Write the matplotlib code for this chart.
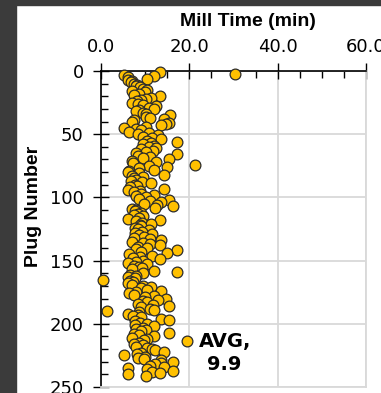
import matplotlib.pyplot as plt
from matplotlib.patches import Rectangle
from matplotlib.ticker import MultipleLocator, FormatStrFormatter
import numpy as np

plt.rcParams['font.family'] = ['Liberation Sans', 'DejaVu Sans']

# mill time (min) for each plug, plug 1 .. 241
mill_time = [
    13.4, 30.3, 5.3, 11.9, 6.2, 10.4, 6.0, 7.1, 6.9, 7.5,
    8.2, 7.9, 8.8, 9.4, 10.5, 7.1, 9.9, 8.6, 7.5, 13.4,
    11.3, 10.1, 9.0, 8.2, 7.1, 8.3, 9.4, 12.4, 10.9, 12.0,
    8.6, 7.9, 9.5, 10.1, 15.6, 10.1, 11.0, 14.3, 7.4, 7.1,
    15.4, 14.8, 13.5, 10.1, 5.3, 8.0, 9.0, 6.4, 10.9, 8.3,
    12.8, 9.6, 11.5, 13.5, 10.5, 17.3, 11.3, 9.4, 12.0, 10.8,
    12.4, 9.0, 11.8, 10.1, 7.9, 17.3, 8.3, 11.0, 9.6, 15.3,
    7.1, 12.4, 7.3, 21.2, 10.9, 15.0, 8.6, 12.0, 6.4, 6.2,
    8.5, 14.3, 7.0, 9.5, 7.5, 8.0, 6.8, 9.2, 11.3, 7.6,
    8.2, 6.5, 14.3, 6.0, 8.8, 7.5, 9.0, 12.0, 8.0, 10.2,
    8.5, 15.4, 11.0, 13.5, 9.8, 12.6, 16.3, 12.2, 7.1, 8.0,
    7.7, 9.0, 8.3, 7.5, 9.5, 8.6, 6.2, 13.4, 8.0, 9.2,
    11.3, 8.8, 9.0, 7.8, 8.3, 10.8, 9.2, 7.6, 11.5, 8.5,
    9.8, 7.4, 11.0, 13.5, 7.1, 9.5, 11.2, 13.4, 8.3, 10.5,
    8.0, 17.3, 9.0, 15.0, 6.4, 11.5, 8.8, 7.2, 13.4, 9.6,
    8.0, 6.0, 10.5, 7.5, 8.6, 9.2, 7.0, 12.0, 17.3, 9.4,
    6.5, 8.0, 6.0, 7.8, 0.4, 6.5, 7.2, 6.0, 7.1, 9.6,
    11.3, 9.0, 10.5, 13.5, 8.0, 6.4, 7.5, 12.0, 10.0, 14.7,
    12.8, 9.5, 10.5, 8.3, 11.8, 15.4, 9.0, 11.0, 12.0, 1.4,
    8.5, 6.0, 8.3, 7.2, 9.0, 13.5, 15.4, 7.6, 8.8, 10.5,
    7.8, 12.0, 9.4, 8.0, 10.2, 9.0, 15.4, 7.5, 8.6, 12.0,
    7.1, 10.5, 9.8, 19.4, 8.5, 7.5, 9.5, 8.0, 10.5, 11.5,
    12.2, 14.3, 9.0, 8.2, 5.3, 10.0, 8.3, 9.8, 13.5, 16.4,
    13.5, 12.2, 11.0, 14.3, 6.0, 10.5, 16.2, 11.5, 13.4, 6.0,
    10.1,
]
plug = np.arange(1, len(mill_time) + 1)

avg_label = "AVG,\n9.9"

fig = plt.figure(figsize=(3.81, 3.93), dpi=100)

# dark frame round the chart
fig.patches.append(Rectangle((0, 0), 16 / 381, 1, transform=fig.transFigure,
                             color='#3b3b3b', zorder=0))
fig.patches.append(Rectangle((0, 1 - 5 / 393), 1, 5 / 393, transform=fig.transFigure,
                             color='#3b3b3b', zorder=0))

ax = fig.add_axes([101 / 381, 1 - 387 / 393, 265 / 381, 316 / 393])

ax.scatter(mill_time, plug, s=60, color='#FFC000', edgecolors='#2b2b2b',
           linewidths=0.9, zorder=3, clip_on=False)

ax.set_xlim(0, 60)
ax.set_ylim(250, 0)

ax.xaxis.tick_top()
ax.xaxis.set_major_locator(MultipleLocator(20))
ax.xaxis.set_minor_locator(MultipleLocator(5))
ax.xaxis.set_major_formatter(FormatStrFormatter('%.1f'))
ax.yaxis.set_major_locator(MultipleLocator(50))
ax.yaxis.set_minor_locator(MultipleLocator(10))

ax.tick_params(which='major', direction='inout', length=11, width=1,
               colors='black')
ax.tick_params(axis='x', which='major', pad=5)
ax.tick_params(axis='y', which='major', pad=7)
ax.tick_params(which='minor', direction='in', length=5, width=1)
for lab in ax.get_xticklabels() + ax.get_yticklabels():
    lab.set_fontfamily('DejaVu Sans')
    lab.set_fontsize(13)

ax.grid(True, which='major', color='#d9d9d9', linewidth=1.3, zorder=0)
ax.set_axisbelow(True)

for side in ['right', 'bottom']:
    ax.spines[side].set_color('#d9d9d9')
    ax.spines[side].set_linewidth(1.3)
for side in ['left', 'top']:
    ax.spines[side].set_color('black')
    ax.spines[side].set_linewidth(1.2)

ax.set_ylabel('Plug Number', fontsize=14, fontweight='bold')
ax.yaxis.set_label_coords(-0.223, 0.573)
fig.text(248 / 381, 1 - 22 / 393, 'Mill Time (min)', ha='center', va='center',
         fontsize=14, fontweight='bold')

ax.text(28, 223, avg_label, ha='center', va='center', fontsize=14,
        fontweight='bold', family='DejaVu Sans', linespacing=1.25)

fig.savefig('out.png', dpi=100)
